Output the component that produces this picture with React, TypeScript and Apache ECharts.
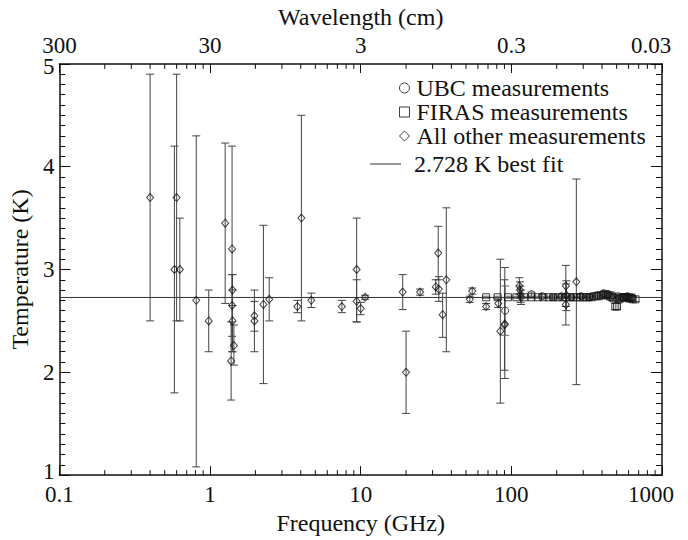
import React, { useEffect, useRef } from "react";
import * as echarts from "echarts";

// ---- Data ----
// All other measurements: frequency (GHz), temperature (K), lower / upper error-bar ends
const otherFreq = [0.4, 0.6, 0.58, 0.63, 0.81, 0.98, 1.26, 1.4, 1.41, 1.4, 1.41, 1.44, 1.38, 1.97, 1.97, 2.26, 2.47, 3.8, 4.04, 4.7, 7.5, 9.4, 9.4, 10.0, 10.7, 19.0, 20.0, 24.8, 32.7, 31.5, 33.0, 35.0, 37.0, 53.0, 55.0, 68.0, 82.0, 84.5, 90.5, 90.0, 113, 114, 115, 116, 230, 230, 232, 270];
const otherTemp = [3.7, 3.7, 3.0, 3.0, 2.7, 2.5, 3.45, 3.2, 2.8, 2.65, 2.5, 2.26, 2.11, 2.55, 2.5, 2.66, 2.71, 2.64, 3.5, 2.7, 2.64, 3.0, 2.69, 2.62, 2.73, 2.78, 2.0, 2.78, 3.16, 2.83, 2.81, 2.56, 2.9, 2.71, 2.79, 2.64, 2.67, 2.4, 2.47, 2.46, 2.84, 2.8, 2.76, 2.73, 2.84, 2.66, 2.75, 2.88];
const otherLow = [2.5, 2.5, 1.8, 2.5, 1.08, 2.2, 2.67, 2.2, 2.65, 2.35, 2.2, 2.07, 1.73, 2.4, 2.2, 1.89, 2.5, 2.58, 2.5, 2.63, 2.58, 2.49, 2.49, 2.56, 2.71, 2.61, 1.6, 2.75, 2.9, 2.76, 2.69, 2.34, 2.2, 2.68, 2.76, 2.61, 2.63, 1.7, 1.94, 2.02, 2.76, 2.72, 2.68, 2.66, 2.64, 2.46, 2.6, 1.88];
const otherHigh = [4.9, 4.9, 4.2, 3.5, 4.3, 2.8, 4.23, 4.2, 2.95, 2.95, 2.8, 2.46, 2.49, 2.69, 2.8, 3.43, 2.92, 2.7, 4.5, 2.77, 2.7, 3.5, 2.9, 2.68, 2.75, 2.95, 2.4, 2.81, 3.42, 2.9, 2.93, 2.77, 3.6, 2.74, 2.82, 2.67, 2.71, 3.1, 3.02, 2.9, 2.92, 2.88, 2.84, 2.8, 3.04, 2.86, 2.89, 3.88];

// UBC measurements
const ubcFreq = [91, 136, 160, 190, 215, 250, 290, 330, 370, 410, 440, 470, 510, 550, 590, 630];
const ubcTemp = [2.6, 2.76, 2.74, 2.73, 2.74, 2.73, 2.74, 2.73, 2.75, 2.77, 2.76, 2.75, 2.74, 2.73, 2.74, 2.73];
const ubcErr = [0.24, 0.02, 0.02, 0.02, 0.02, 0.02, 0.02, 0.02, 0.02, 0.02, 0.02, 0.02, 0.02, 0.02, 0.02, 0.03];

// FIRAS measurements
const firasFreq = [68, 81, 95, 108, 122, 136, 150, 163, 177, 190, 204, 218, 231, 245, 258, 272, 286, 299, 313, 326, 340, 354, 367, 381, 395, 408, 422, 435, 449, 462, 476, 490, 503, 517, 530, 544, 558, 571, 585, 598, 612, 626, 639, 667];
const firasTemp = [2.73, 2.73, 2.73, 2.73, 2.73, 2.73, 2.73, 2.73, 2.73, 2.73, 2.73, 2.73, 2.73, 2.73, 2.73, 2.73, 2.73, 2.73, 2.73, 2.73, 2.73, 2.74, 2.74, 2.74, 2.75, 2.75, 2.76, 2.75, 2.74, 2.73, 2.72, 2.64, 2.64, 2.71, 2.72, 2.73, 2.73, 2.73, 2.73, 2.72, 2.72, 2.72, 2.71, 2.71];
const firasErr = [0.01, 0.01, 0.01, 0.01, 0.01, 0.01, 0.01, 0.01, 0.01, 0.01, 0.01, 0.01, 0.01, 0.01, 0.01, 0.01, 0.01, 0.01, 0.01, 0.01, 0.01, 0.01, 0.01, 0.01, 0.01, 0.01, 0.01, 0.01, 0.01, 0.01, 0.02, 0.03, 0.03, 0.02, 0.02, 0.01, 0.01, 0.01, 0.01, 0.01, 0.01, 0.02, 0.02, 0.02];

const bestFit = 2.728;
const freqRange = [0.1, 1000];
const tempRange = [1, 5];
// minor log ticks (axis decoration)
const decades = [0.1, 1, 10, 100];
const minorMultipliers = [2, 3, 4, 5, 6, 7, 8, 9];

const FONT = "serif";

export default function App() {
  const ref = useRef<HTMLDivElement>(null);

  useEffect(() => {
    if (!ref.current) return;
    const chart = echarts.init(ref.current, undefined, { renderer: "svg" });

    const otherBars = otherFreq.map((f, i) => [f, otherLow[i], otherHigh[i]]);
    const ubcBars = ubcFreq.map((f, i) => [f, ubcTemp[i] - ubcErr[i], ubcTemp[i] + ubcErr[i]]);
    const firasBars = firasFreq.map((f, i) => [f, firasTemp[i] - firasErr[i], firasTemp[i] + firasErr[i]]);
    const minorTicks: number[][] = [];
    decades.forEach((d) => minorMultipliers.forEach((m) => minorTicks.push([d * m, tempRange[0]])));

    const errRender = (color: string) => (params: any, api: any) => {
      const f = api.value(0);
      const p1 = api.coord([f, api.value(2)]);
      const p2 = api.coord([f, api.value(1)]);
      const w = 4;
      const st = { stroke: color, lineWidth: 1 };
      return {
        type: "group",
        children: [
          { type: "line", shape: { x1: p1[0], y1: p1[1], x2: p2[0], y2: p2[1] }, style: st },
          { type: "line", shape: { x1: p1[0] - w, y1: p1[1], x2: p1[0] + w, y2: p1[1] }, style: st },
          { type: "line", shape: { x1: p2[0] - w, y1: p2[1], x2: p2[0] + w, y2: p2[1] }, style: st },
        ],
      };
    };

    const labelFmt = (v: number) => String(Number(v.toPrecision(3)));
    const axisLineStyle = { color: "#111", width: 1.5 };
    const hollow = { color: "transparent", borderColor: "#111", borderWidth: 1 };
    const tickFont = { fontFamily: FONT, fontSize: 23, color: "#111" };
    const nameFont = { fontFamily: FONT, fontSize: 24, color: "#111" };

    const option: any = {
      animation: false,
      backgroundColor: "#fff",
      textStyle: { fontFamily: FONT, color: "#111" },
      grid: { left: 53, right: 13, top: 57, bottom: 51 },
      legend: [
        {
          orient: "vertical",
          left: 394,
          top: 71,
          itemWidth: 10,
          itemHeight: 10,
          itemGap: 0,
          textStyle: { fontFamily: FONT, fontSize: 24, lineHeight: 22, color: "#111", padding: [0, 0, 0, 2] },
          data: [
            { name: "UBC measurements", icon: "circle", itemStyle: hollow },
            { name: "FIRAS measurements", icon: "rect", itemStyle: hollow },
            { name: "All other measurements", icon: "diamond", itemStyle: hollow },
          ],
        },
        {
          orient: "vertical",
          left: 365,
          top: 147,
          itemWidth: 31,
          itemHeight: 1,
          textStyle: { fontFamily: FONT, fontSize: 24, lineHeight: 22, color: "#111", padding: [0, 0, 0, 8] },
          data: [{ name: "2.728 K best fit", icon: "rect", itemStyle: { color: "#333" } }],
        },
      ],
      xAxis: [
        {
          type: "log",
          logBase: 10,
          min: freqRange[0],
          max: freqRange[1],
          position: "bottom",
          name: "Frequency (GHz)",
          nameLocation: "middle",
          nameGap: 30,
          nameTextStyle: nameFont,
          axisLine: { lineStyle: axisLineStyle },
          axisTick: { inside: true, length: 9, lineStyle: { color: "#111" } },
          axisLabel: {
            ...tickFont,
            margin: 8,
            formatter: (v: number) => (v >= freqRange[1] ? labelFmt(v) + "{s|}" : labelFmt(v)),
            rich: { s: { width: 22 } },
          },
          splitLine: { show: false },
        },
        {
          type: "log",
          logBase: 10,
          min: freqRange[0],
          max: freqRange[1],
          position: "top",
          name: "Wavelength (cm)",
          nameLocation: "middle",
          nameGap: 23,
          nameTextStyle: nameFont,
          axisLine: { lineStyle: axisLineStyle },
          axisTick: { inside: true, length: 9, lineStyle: { color: "#111" } },
          axisLabel: {
            ...tickFont,
            margin: 7,
            formatter: (v: number) => {
              const s = String(Number((30 / v).toPrecision(3)));
              return v >= freqRange[1] ? s + "{s|}" : s;
            },
            rich: { s: { width: 22 } },
          },
          splitLine: { show: false },
        },
      ],
      yAxis: [
        {
          type: "value",
          min: tempRange[0],
          max: tempRange[1],
          interval: 1,
          position: "left",
          name: "Temperature (K)",
          nameLocation: "middle",
          nameGap: 23,
          nameTextStyle: nameFont,
          axisLine: { show: true, lineStyle: axisLineStyle },
          axisTick: { show: true, inside: true, length: 11, lineStyle: { color: "#111" } },
          minorTick: { show: true, splitNumber: 10, length: 6, lineStyle: { color: "#111" } },
          axisLabel: {
            ...tickFont,
            margin: 5,
            formatter: (v: number) =>
              v === tempRange[1] ? `{t|${v}}` : v === tempRange[0] ? `{b|${v}}` : String(v),
            rich: {
              t: { fontFamily: FONT, fontSize: 23, lineHeight: 8, color: "#111", padding: [6, 0, 0, 0] },
              b: { fontFamily: FONT, fontSize: 23, lineHeight: 8, color: "#111", padding: [0, 0, 8, 0] },
            },
          },
          splitLine: { show: false },
          minorSplitLine: { show: false },
        },
        {
          type: "value",
          min: tempRange[0],
          max: tempRange[1],
          interval: 1,
          position: "right",
          axisLine: { show: true, lineStyle: axisLineStyle },
          axisTick: { show: true, inside: true, length: 11, lineStyle: { color: "#111" } },
          minorTick: { show: true, splitNumber: 10, length: 6, lineStyle: { color: "#111" } },
          axisLabel: { show: false },
          splitLine: { show: false },
        },
      ],
      series: [
        {
          name: "minor ticks",
          type: "custom",
          silent: true,
          clip: false,
          data: minorTicks,
          encode: { x: 0, y: 1 },
          renderItem: (params: any, api: any) => {
            const x = api.coord([api.value(0), tempRange[0]])[0];
            const cs = params.coordSys;
            const st = { stroke: "#111", lineWidth: 1 };
            return {
              type: "group",
              children: [
                { type: "line", shape: { x1: x, y1: cs.y + cs.height, x2: x, y2: cs.y + cs.height - 5 }, style: st },
                { type: "line", shape: { x1: x, y1: cs.y, x2: x, y2: cs.y + 5 }, style: st },
              ],
            };
          },
        },
        {
          name: "2.728 K best fit",
          type: "line",
          data: [[freqRange[0], bestFit], [freqRange[1], bestFit]],
          symbol: "none",
          lineStyle: { color: "#333", width: 1 },
          itemStyle: { color: "#333" },
          z: 1,
        },
        {
          name: "other errors",
          type: "custom",
          data: otherBars,
          encode: { x: 0, y: [1, 2] },
          renderItem: errRender("#444"),
          z: 2,
        },
        {
          name: "ubc errors",
          type: "custom",
          data: ubcBars,
          encode: { x: 0, y: [1, 2] },
          renderItem: errRender("#666"),
          z: 2,
        },
        {
          name: "firas errors",
          type: "custom",
          data: firasBars,
          encode: { x: 0, y: [1, 2] },
          renderItem: errRender("#666"),
          z: 2,
        },
        {
          name: "UBC measurements",
          type: "scatter",
          symbol: "circle",
          symbolSize: 7,
          data: ubcFreq.map((f, i) => [f, ubcTemp[i]]),
          itemStyle: hollow,
          z: 3,
        },
        {
          name: "FIRAS measurements",
          type: "scatter",
          symbol: "rect",
          symbolSize: 7,
          data: firasFreq.map((f, i) => [f, firasTemp[i]]),
          itemStyle: hollow,
          z: 3,
        },
        {
          name: "All other measurements",
          type: "scatter",
          symbol: "diamond",
          symbolSize: [7, 8],
          data: otherFreq.map((f, i) => [f, otherTemp[i]]),
          itemStyle: hollow,
          z: 3,
        },
      ],
    };

    chart.setOption(option);
    return () => chart.dispose();
  }, []);

  return (
    <div
      ref={ref}
      style={{ position: "fixed", left: 0, top: 0, width: 688, height: 540, background: "#fff" }}
    />
  );
}
